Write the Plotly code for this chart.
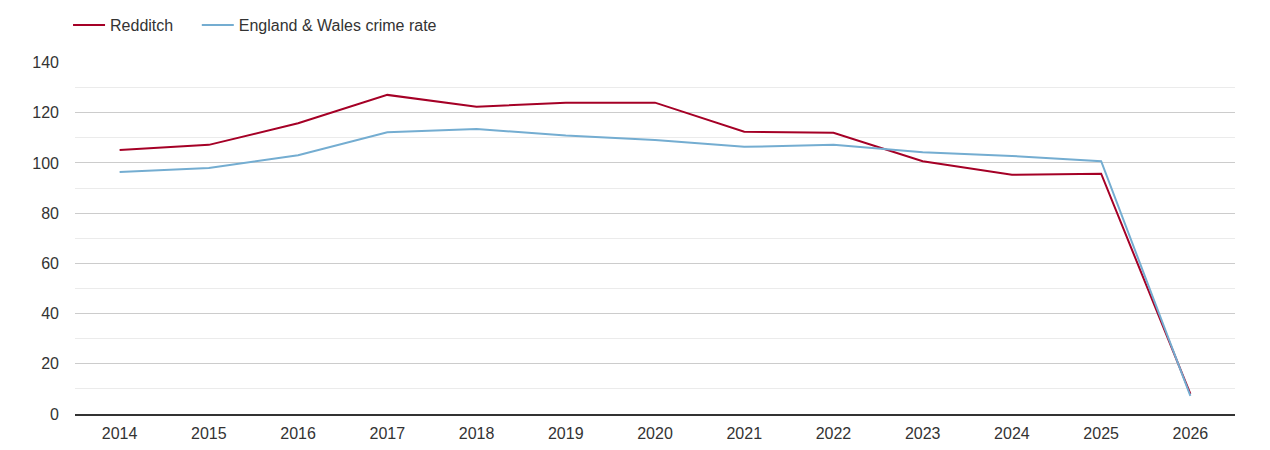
import plotly.graph_objects as go

years = [str(y) for y in range(2014, 2027)]
redditch = [105.1, 107.2, 115.8, 127.1, 122.4, 124.0, 124.0, 112.4, 112.0, 100.7, 95.3, 95.7, 8.0]
england_wales = [96.4, 98.0, 103.1, 112.2, 113.5, 110.9, 109.1, 106.4, 107.2, 104.3, 102.8, 100.7, 7.2]

red = "#a50026"
blue = "#74add1"
ink = "#333333"

fig = go.Figure()
fig.add_trace(go.Scatter(x=years, y=redditch, mode="lines", name="Redditch",
                         line=dict(color=red, width=2), legend="legend"))
fig.add_trace(go.Scatter(x=years, y=england_wales, mode="lines", name="England & Wales crime rate",
                         line=dict(color=blue, width=2), legend="legend2"))

legend_style = dict(orientation="h", xanchor="left", y=0.962, yanchor="middle",
                    yref="container", itemwidth=32, font=dict(size=16, color=ink),
                    bgcolor="rgba(0,0,0,0)")

# page body has an 8px margin, so the figure sits 8px right/down in the window
fig.update_layout(
    width=1270, height=450,
    margin=dict(l=67, r=43, t=50, b=44),
    plot_bgcolor="white", paper_bgcolor="white",
    font=dict(family="Liberation Sans, Arial, sans-serif", size=16, color=ink),
    legend=dict(x=-0.006, **legend_style),
    legend2=dict(x=0.105, **legend_style),
    showlegend=True,
)
fig.update_xaxes(type="category", range=[-0.5, 12.5], showgrid=False,
                 showline=True, linecolor=ink, linewidth=1.5, ticks="",
                 ticklabelstandoff=4, tickfont=dict(size=16, color=ink))
fig.update_yaxes(range=[0, 140], dtick=20, gridcolor="#cccccc", gridwidth=1,
                 zeroline=False, ticks="", ticklabelstandoff=15,
                 tickfont=dict(size=16, color=ink),
                 minor=dict(dtick=10, showgrid=True, gridcolor="#ebebeb", gridwidth=1))

fig.write_html("out.html")
